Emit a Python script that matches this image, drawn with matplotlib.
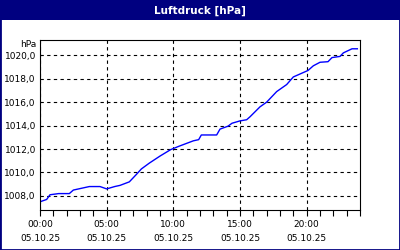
import numpy as np
import matplotlib
matplotlib.use("Agg")
import matplotlib.pyplot as plt
from matplotlib.patches import Rectangle
from matplotlib.ticker import FixedLocator, MultipleLocator, FuncFormatter

# values (hour of day, hPa)
hours = [0.0, 0.5, 0.75, 1.4, 2.2, 2.5, 3.1, 3.7, 4.5, 5.0, 5.6, 6.0,
         6.7, 7.2, 7.6, 8.2, 9.0, 9.8, 10.45, 11.5, 11.9, 12.1, 13.25,
         13.5, 14.1, 14.4, 15.0, 15.5, 15.75, 16.5, 17.0, 17.75, 18.5,
         19.0, 20.1, 20.5, 21.0, 21.6, 21.9, 22.5, 22.75, 23.4, 23.8]
pressure = [1007.5, 1007.7, 1008.1, 1008.2, 1008.2, 1008.5, 1008.65, 1008.8,
            1008.8, 1008.6, 1008.8, 1008.9, 1009.2, 1009.8, 1010.3, 1010.8,
            1011.4, 1011.95, 1012.25, 1012.7, 1012.8, 1013.2, 1013.2, 1013.7,
            1013.95, 1014.2, 1014.4, 1014.5, 1014.75, 1015.6, 1016.0, 1016.9,
            1017.5, 1018.15, 1018.7, 1019.1, 1019.4, 1019.45, 1019.8, 1019.9,
            1020.2, 1020.55, 1020.55]
time_labels = ["00:00", "05:00", "10:00", "15:00", "20:00"]
date_label = "05.10.25"
y_ticks = [1008, 1010, 1012, 1014, 1016, 1018, 1020]

navy = "#000080"

fig = plt.figure(figsize=(4, 2.5), dpi=100)
fig.patch.set_facecolor("white")

# title bar
fig.patches.append(Rectangle((0, 0.92), 1, 0.08, transform=fig.transFigure,
                             facecolor=navy, edgecolor="none", zorder=0))
fig.patches.append(Rectangle((0, 0), 1, 1, transform=fig.transFigure,
                             fill=False, edgecolor=navy, lw=2, zorder=5))
fig.text(0.5, 0.958, "Luftdruck [hPa]", color="white", fontsize=7.5,
         fontweight="bold", ha="center", va="center")

ax = fig.add_axes([0.1, 0.16, 0.8, 0.68])
ax.plot(hours, pressure, color="#0000ff", lw=1)

ax.set_xlim(0, 24)
ax.set_ylim(1006.8, 1021.3)

ax.xaxis.set_major_locator(FixedLocator([0, 5, 10, 15, 20]))
ax.xaxis.set_minor_locator(MultipleLocator(1))
ax.set_xticklabels([t + "\n" + date_label for t in time_labels], linespacing=1.75)
ax.yaxis.set_major_locator(FixedLocator(y_ticks))
ax.yaxis.set_major_formatter(FuncFormatter(lambda v, p: f"{v:.1f}".replace(".", ",")))

ax.tick_params(axis="x", which="both", length=4, width=0.8, pad=3,
               labelsize=6.5, direction="out")
ax.tick_params(axis="y", length=0, pad=3, labelsize=6.5)
ax.grid(True, which="major", color="black", linestyle=(0, (3, 3)), lw=0.8)
for s in ax.spines.values():
    s.set_linewidth(0.8)

fig.text(36 / 400, 1 - 45 / 250, "hPa", fontsize=6.5, ha="right", va="center")

fig.savefig("out.png", dpi=100)
